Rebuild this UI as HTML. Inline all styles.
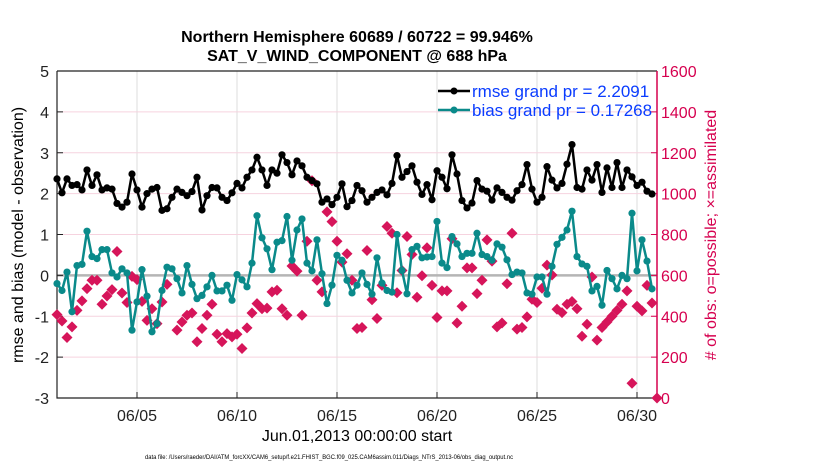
<!DOCTYPE html>
<html><head><meta charset="utf-8"><style>
body{margin:0;background:#fff;}
svg{display:block;font-family:"Liberation Sans",sans-serif;}
</style></head><body>
<svg id="chart" width="830" height="470" viewBox="0 0 830 470" xmlns="http://www.w3.org/2000/svg">
<text x="357" y="42" text-anchor="middle" font-size="16" font-weight="bold">Northern Hemisphere 60689 / 60722 = 99.946%</text>
<text x="357" y="61" text-anchor="middle" font-size="16" font-weight="bold">SAT_V_WIND_COMPONENT @ 688 hPa</text>
<g id="grid"></g>
<g id="axes"></g>
<g id="series"></g>
<text transform="translate(23,235) rotate(-90)" text-anchor="middle" font-size="16">rmse and bias (model - observation)</text>
<text transform="translate(716,235) rotate(-90)" text-anchor="middle" font-size="16" fill="#d6004f"># of obs: o=possible; ×=assimilated</text>
<text x="357" y="441" text-anchor="middle" font-size="16">Jun.01,2013 00:00:00 start</text>
<text x="329" y="459" text-anchor="middle" font-size="6" textLength="368" lengthAdjust="spacingAndGlyphs">data file: /Users/raeder/DAI/ATM_forcXX/CAM6_setup/f.e21.FHIST_BGC.f09_025.CAM6assim.011/Diags_NTrS_2013-06/obs_diag_output.nc</text>
<g>
<line x1="438" y1="91" x2="470" y2="91" stroke="#000" stroke-width="2.5"/>
<circle cx="454" cy="91" r="3.5" fill="#000"/>
<text x="472" y="97" font-size="17" fill="#0a3cff">rmse grand pr = 2.2091</text>
<line x1="438" y1="110" x2="470" y2="110" stroke="#0a8a8a" stroke-width="2.5"/>
<circle cx="454" cy="110" r="3.5" fill="#0a8a8a"/>
<text x="472" y="116" font-size="17" fill="#0a3cff">bias grand pr = 0.17268</text>
</g>
</svg>
<script>
const rmse=[2.36,2.02,2.36,2.20,2.22,2.09,2.58,2.20,2.46,2.09,2.14,2.11,1.76,1.67,1.79,2.48,2.09,1.67,2.0,2.11,2.15,1.59,1.63,1.91,2.11,2.03,1.95,2.05,2.40,1.60,1.95,2.15,2.14,1.91,1.83,2.02,2.25,2.14,2.40,2.58,2.89,
2.58,2.20,2.58,2.50,2.95,2.76,2.46,2.80,2.68,2.40,2.32,2.24,1.79,1.87,1.73,1.91,2.24,1.68,1.83,2.20,2.07,1.79,1.91,2.03,2.09,1.97,2.25,2.93,2.40,2.54,2.68,2.28,1.98,2.22,1.85,2.56,2.40,2.12,2.95,2.48,
1.83,1.65,1.77,2.32,2.11,2.06,1.84,2.14,2.03,1.91,1.84,2.07,2.22,2.71,2.11,1.79,1.91,2.66,2.33,2.14,2.25,2.72,3.20,2.15,2.11,2.58,2.33,2.71,2.03,2.63,2.15,2.76,2.15,2.58,2.41,2.20,2.28,2.06,1.99];
const bias=[-0.20,-0.37,0.08,-0.89,0.24,0.27,1.08,0.46,0.41,0.63,0.63,0.06,-0.04,0.16,0.06,-1.34,-0.65,0.14,-0.51,-1.38,-1.18,-0.37,0.20,0.16,-0.08,-0.43,0.24,-0.22,-0.57,-0.49,-0.28,0,-0.38,-0.38,-0.24,-0.61,0.02,-0.11,-0.28,0.30,1.46,
0.92,0.65,0.14,0.81,0.85,1.44,0.37,1.11,1.38,0.30,0.11,0.87,0.04,-0.69,-0.24,0.49,0.37,-0.12,-0.43,-0.24,0.06,-0.22,-0.46,0.43,-0.19,-0.37,-0.41,1.0,0.12,-0.45,0.63,0.71,0.43,0.45,0.46,1.32,0.30,0.19,0.95,0.77,
0.46,0.54,0.54,1.03,0.51,0.46,0.37,0.77,0.69,0.38,0.02,0.08,0.06,-0.43,-0.46,-0.04,-0.04,-0.46,0.22,0.76,0.93,1.11,1.57,0.46,0.28,0.22,-0.38,-0.27,-0.73,0.12,-0.08,-0.33,0,-0.08,1.52,0.11,0.87,0.35,-0.33];
const nobs=[408,377,296,348,429,475,535,576,576,459,499,530,717,514,467,595,579,473,380,437,364,470,556,null,332,372,405,416,275,340,405,459,312,275,315,299,312,242,343,416,462,
437,440,519,527,437,405,646,621,405,767,1063,576,519,911,863,767,665,706,576,340,345,722,481,389,551,839,806,515,624,790,702,493,598,735,551,394,524,524,779,367,
449,637,637,511,576,774,670,348,367,559,806,337,345,397,483,467,537,650,602,434,418,459,472,437,302,361,592,283,345,372,400,429,459,524,72,449,426,551,465,0];
const leftTicks=[-3,-2,-1,0,1,2,3,4,5];
const rightTicks=[0,200,400,600,800,1000,1200,1400,1600];
const xTickDays=[4,9,14,19,24,29];
const xTickLabels=["06/05","06/10","06/15","06/20","06/25","06/30"];
const stepDays=0.25;

const X0=57,X1=657,Y0=71,Y1=398;
const xDay=d=>X0+(X1-X0)*d/30;
const yL=v=>Y1-(Y1-Y0)*(v+3)/8;
const yR=c=>Y1-(Y1-Y0)*c/1600;
const NS="http://www.w3.org/2000/svg";
function mk(tag,attrs,parent){const e=document.createElementNS(NS,tag);for(const k in attrs)e.setAttribute(k,attrs[k]);parent.appendChild(e);return e;}
const grid=document.getElementById('grid'),axes=document.getElementById('axes'),series=document.getElementById('series');

xTickDays.forEach((d,i)=>{
  const gl=mk('line',{x1:xDay(d),x2:xDay(d),y1:Y0,y2:Y1,stroke:'#dcdcdc','stroke-width':1},grid);
  
  
  const tk=mk('line',{x1:xDay(d),x2:xDay(d),y1:Y1,y2:Y1-6,stroke:'#222','stroke-width':1},axes);
  
  
  const tl=mk('text',{x:xDay(d),y:Y1+23,'text-anchor':'middle','font-size':16,fill:'#222'},axes);
  tl.textContent=xTickLabels[i];
  
  
});
leftTicks.forEach(v=>{
  if(v!==0&&v!==-3&&v!==5){
    const gl=mk('line',{x1:X0,x2:X1,y1:yL(v),y2:yL(v),stroke:'#f6d3df','stroke-width':1},grid);
    
    
  }
  const tk=mk('line',{x1:X0,x2:X0+6,y1:yL(v),y2:yL(v),stroke:'#222'},axes);
  
  
  const tl=mk('text',{x:X0-8,y:yL(v)+6,'text-anchor':'end','font-size':16,fill:'#222'},axes);
  tl.textContent=v;
  
  
});
rightTicks.forEach(c=>{
  const tk=mk('line',{x1:X1,x2:X1-6,y1:yR(c),y2:yR(c),stroke:'#d6004f'},axes);
  
  
  const tl=mk('text',{x:X1+4,y:yR(c)+6,'font-size':16,fill:'#d6004f'},axes);
  tl.textContent=c;
  
  
});
const zl=mk('line',{x1:X0,x2:X1,y1:yL(0),y2:yL(0),stroke:'#b5b5b5','stroke-width':2.5},grid);


const ax=mk('path',{d:`M${X0},${Y0}V${Y1}H${X1}M${X0},${Y0}H${X1}`,stroke:'#222',fill:'none','stroke-width':1.2},axes);


const ar=mk('line',{x1:X1,x2:X1,y1:Y0,y2:Y1,stroke:'#d6004f','stroke-width':1.5},axes);



nobs.forEach((c,k)=>{
  if(c===null)return;
  const x=xDay(k*stepDays),y=yR(c);
  const d=mk('path',{d:`M${x},${y-5.5}L${x+5.5},${y}L${x},${y+5.5}L${x-5.5},${y}Z`,fill:'#d6155a'},series);
  
  
});
function drawLine(vals,color,name){
  const pts=vals.map((v,k)=>`${xDay(k*stepDays)},${yL(v)}`).join(' ');
  const pl=mk('polyline',{points:pts,fill:'none',stroke:color,'stroke-width':2.5,'stroke-linejoin':'round'},series);
  
  
  vals.forEach((v,k)=>{
    const c=mk('circle',{cx:xDay(k*stepDays),cy:yL(v),r:3.6,fill:color},series);
    
    
  });
}
drawLine(bias,'#0a8a8a','bias');
drawLine(rmse,'#000','rmse');
</script>
</body></html>
